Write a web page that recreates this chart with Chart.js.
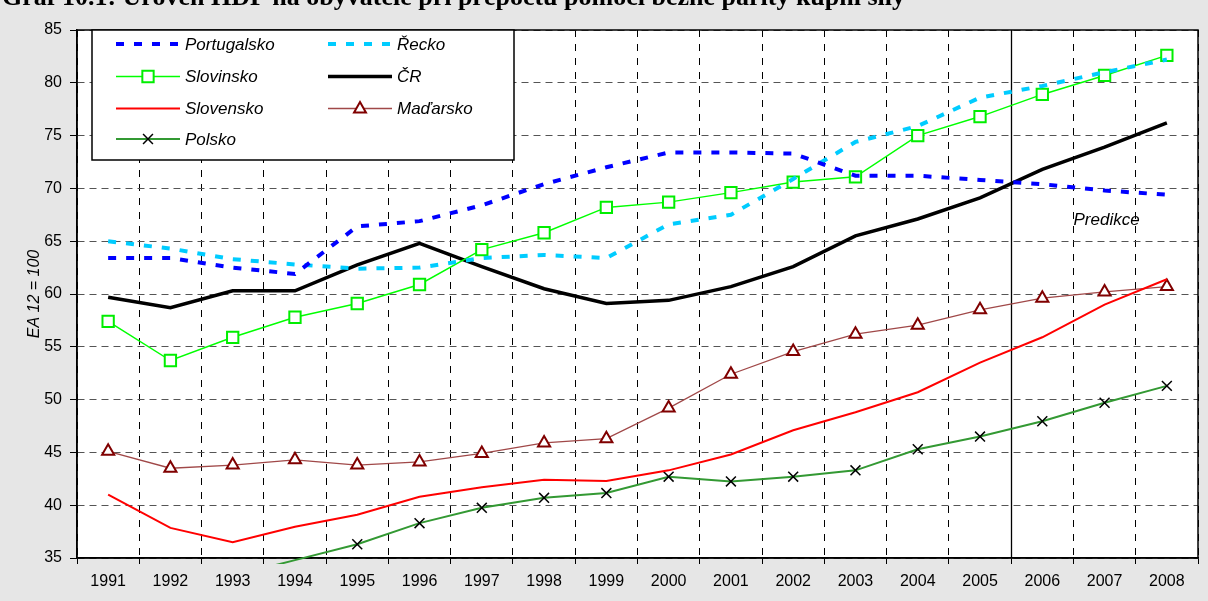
<!DOCTYPE html>
<html>
<head>
<meta charset="utf-8">
<script src="https://cdn.jsdelivr.net/npm/chart.js@4.4.1/dist/chart.umd.min.js"></script>
<style>
  html, body { margin: 0; padding: 0; background: #e6e6e6; }
  #wrap { position: relative; width: 1208px; height: 601px; }
</style>
</head>
<body>
<div id="wrap"><canvas id="chart" width="1208" height="601"></canvas></div>
<script>
// Graf 10.1 - HDP na obyvatele (EA 12 = 100)
const years = ['1991', '1992', '1993', '1994', '1995', '1996', '1997', '1998', '1999',
  '2000', '2001', '2002', '2003', '2004', '2005', '2006', '2007', '2008'];

const portugalsko = [63.4, 63.4, 62.5, 61.9, 66.4, 66.9, 68.4, 70.4, 72.0, 73.4, 73.4, 73.3, 71.2, 71.2, 70.8, 70.4, 69.8, 69.4];
const recko = [65.0, 64.3, 63.3, 62.8, 62.4, 62.5, 63.4, 63.7, 63.4, 66.6, 67.5, 70.9, 74.4, 75.9, 78.6, 79.7, 81.0, 82.2];
const slovinsko = [57.4, 53.7, 55.9, 57.8, 59.1, 60.9, 64.2, 65.8, 68.2, 68.7, 69.6, 70.6, 71.1, 75.0, 76.8, 78.9, 80.7, 82.6];
const cr = [59.7, 58.7, 60.3, 60.3, 62.75, 64.8, 62.6, 60.5, 59.1, 59.4, 60.7, 62.6, 65.5, 67.1, 69.1, 71.8, 73.9, 76.2];
const slovensko = [41.0, 37.85, 36.5, 37.95, 39.1, 40.8, 41.7, 42.4, 42.3, 43.3, 44.8, 47.1, 48.8, 50.7, 53.5, 55.9, 59.0, 61.4];
const madarsko = [45.1, 43.5, 43.8, 44.3, 43.8, 44.1, 44.9, 45.9, 46.3, 49.2, 52.4, 54.55, 56.2, 57.05, 58.5, 59.6, 60.2, 60.7];
const polsko = [null, null, 33.3, 34.8, 36.3, 38.3, 39.75, 40.7, 41.15, 42.7, 42.25, 42.7, 43.3, 45.3, 46.5, 47.95, 49.7, 51.3];

const yTicks = [35, 40, 45, 50, 55, 60, 65, 70, 75, 80, 85];

const titleText = 'Graf 10.1: Úroveň HDP na obyvatele při přepočtu pomocí běžné parity kupní síly';
const predictionLabel = 'Predikce';
const axisTitle = 'EA 12 = 100';

const FONT = '"Liberation Sans", Arial, sans-serif';

// draw a marker without depending on Chart.helpers
function marker(ctx, style, x, y, r, fill, stroke, lw) {
  ctx.save();
  ctx.setLineDash([]);
  ctx.lineWidth = lw;
  ctx.strokeStyle = stroke;
  ctx.fillStyle = fill;
  ctx.beginPath();
  if (style === 'rect') {
    const s = r * Math.SQRT1_2;
    ctx.rect(x - s, y - s, 2 * s, 2 * s);
    ctx.fill();
    ctx.stroke();
  } else if (style === 'triangle') {
    const h = r * 1.5;
    ctx.moveTo(x, y - h * 0.62);
    ctx.lineTo(x + r * 0.85, y + h * 0.38);
    ctx.lineTo(x - r * 0.85, y + h * 0.38);
    ctx.closePath();
    ctx.fill();
    ctx.stroke();
  } else if (style === 'crossRot') {
    const s = r * Math.SQRT1_2;
    ctx.moveTo(x - s, y - s); ctx.lineTo(x + s, y + s);
    ctx.moveTo(x - s, y + s); ctx.lineTo(x + s, y - s);
    ctx.stroke();
  }
  ctx.restore();
}

const chartDecor = {
  id: 'chartDecor',
  beforeDraw(chart) {
    const { ctx, chartArea: a } = chart;
    ctx.save();
    ctx.fillStyle = '#ffffff';
    ctx.fillRect(a.left, a.top, a.right - a.left, a.bottom - a.top);
    // title, partly cut at the top edge
    let size = 22;
    ctx.font = 'bold ' + size + 'px "Liberation Serif", "Times New Roman", serif';
    const w = ctx.measureText(titleText).width;
    size = size * 903 / w;
    ctx.font = 'bold ' + size.toFixed(2) + 'px "Liberation Serif", "Times New Roman", serif';
    ctx.fillStyle = '#000';
    ctx.textBaseline = 'alphabetic';
    ctx.fillText(titleText, 2, 5);
    ctx.restore();
  },
  beforeDatasetsDraw(chart) {
    const { ctx, chartArea: a, scales } = chart;
    const x = scales.x;
    const y = scales.y;
    ctx.save();
    // forecast divider between 2005 and 2006
    const xd = Math.round((x.getPixelForValue(14) + x.getPixelForValue(15)) / 2) + 0.5;
    ctx.strokeStyle = '#000';
    ctx.lineWidth = 1.3;
    ctx.beginPath();
    ctx.moveTo(xd, a.top);
    ctx.lineTo(xd, a.bottom);
    ctx.stroke();
    // plot border
    ctx.lineWidth = 1.5;
    ctx.strokeRect(a.left, a.top, a.right - a.left, a.bottom - a.top);
    // prediction label
    ctx.font = 'italic 17px ' + FONT;
    ctx.textAlign = 'center';
    ctx.textBaseline = 'middle';
    ctx.fillStyle = '#000';
    ctx.fillText(predictionLabel, x.getPixelForValue(16) + 2, y.getPixelForValue(67));
    ctx.restore();
  },
  afterDatasetsDraw(chart) {
    const { ctx, chartArea: a } = chart;
    const ds = chart.data.datasets;
    const x0 = a.left + 15, y0 = a.top, x1 = a.left + 437, y1 = a.top + 130;
    ctx.save();
    ctx.fillStyle = '#ffffff';
    ctx.fillRect(x0, y0, x1 - x0, y1 - y0);
    ctx.strokeStyle = '#000';
    ctx.lineWidth = 1.5;
    ctx.strokeRect(x0, y0, x1 - x0, y1 - y0);

    const cols = [x0 + 24, x0 + 236];
    const rows = [y0 + 14, y0 + 46.5, y0 + 78.5, y0 + 109];
    // order: Portugalsko, Řecko / Slovinsko, ČR / Slovensko, Maďarsko / Polsko
    ds.forEach((d, i) => {
      const lx = cols[i % 2];
      const ly = rows[Math.floor(i / 2)];
      ctx.save();
      ctx.strokeStyle = d.borderColor;
      ctx.lineWidth = d.borderWidth;
      ctx.setLineDash(d.borderDash || []);
      ctx.beginPath();
      ctx.moveTo(lx, ly);
      ctx.lineTo(lx + 64, ly);
      ctx.stroke();
      ctx.restore();
      if (d.legendMarker) {
        marker(ctx, d.pointStyle, lx + 32, ly, d.legendMarker,
          d.pointBackgroundColor, d.pointBorderColor, d.pointBorderWidth);
      }
      ctx.font = 'italic 17px ' + FONT;
      ctx.fillStyle = '#000';
      ctx.textAlign = 'left';
      ctx.textBaseline = 'middle';
      ctx.fillText(d.label, lx + 69, ly + 1);
    });
    ctx.restore();
  }
};

const hideBelow = (r) => (ctx) => (ctx.raw == null || ctx.raw < 35 ? 0 : r);

new Chart(document.getElementById('chart'), {
  type: 'line',
  data: {
    labels: years,
    datasets: [
      {
        label: 'Portugalsko', data: portugalsko,
        borderColor: '#0000ff', borderWidth: 4, borderDash: [8, 10],
        pointRadius: 0, tension: 0
      },
      {
        label: 'Řecko', data: recko,
        borderColor: '#00ccff', borderWidth: 4, borderDash: [8, 10],
        pointRadius: 0, tension: 0
      },
      {
        label: 'Slovinsko', data: slovinsko,
        borderColor: '#00ff00', borderWidth: 1.5,
        pointStyle: 'rect', pointRadius: 8, legendMarker: 8,
        pointBackgroundColor: '#ffffff', pointBorderColor: '#00ee00', pointBorderWidth: 2,
        tension: 0
      },
      {
        label: 'ČR', data: cr,
        borderColor: '#000000', borderWidth: 3.5,
        pointRadius: 0, tension: 0
      },
      {
        label: 'Slovensko', data: slovensko,
        borderColor: '#ff0000', borderWidth: 2,
        pointRadius: 0, tension: 0
      },
      {
        label: 'Maďarsko', data: madarsko,
        borderColor: '#a04848', borderWidth: 1.3,
        pointStyle: 'triangle', pointRadius: 7, legendMarker: 7,
        pointBackgroundColor: '#ffffff', pointBorderColor: '#800000', pointBorderWidth: 2,
        tension: 0
      },
      {
        label: 'Polsko', data: polsko,
        borderColor: '#339933', borderWidth: 2,
        pointStyle: 'crossRot', pointRadius: hideBelow(7), legendMarker: 7,
        pointBackgroundColor: '#000000', pointBorderColor: '#000000', pointBorderWidth: 1.5,
        clip: { left: 0, top: 0, right: 0, bottom: 6 },
        spanGaps: false, tension: 0
      }
    ]
  },
  options: {
    responsive: false,
    animation: false,
    layout: { padding: { left: 0, top: 30, right: 10, bottom: 0 } },
    plugins: {
      legend: { display: false },
      tooltip: { enabled: false },
      title: { display: false }
    },
    scales: {
      x: {
        offset: true,
        grid: {
          offset: true,
          color: '#000',
          lineWidth: 1,
          tickLength: 6,
          tickColor: '#000',
          drawOnChartArea: true
        },
        border: { display: true, color: '#000', width: 1.5, dash: [7, 7] },
        ticks: {
          color: '#000',
          padding: 8,
          maxRotation: 0,
          autoSkip: false,
          font: { family: FONT, size: 16 }
        },
        afterFit(scale) { scale.height = 43; }
      },
      y: {
        min: 35,
        max: 85,
        afterBuildTicks(scale) { scale.ticks = yTicks.map(v => ({ value: v })); },
        grid: {
          color: '#555',
          lineWidth: 1,
          tickLength: 7,
          tickColor: '#000'
        },
        border: { display: true, color: '#000', width: 1.5, dash: [7, 5] },
        ticks: {
          color: '#000',
          padding: 8,
          font: { family: FONT, size: 16 }
        },
        title: {
          display: true,
          text: axisTitle,
          color: '#000',
          padding: { top: 25, bottom: 0 },
          font: { family: FONT, size: 16, style: 'italic' }
        },
        afterFit(scale) { scale.width = 77; }
      }
    }
  },
  plugins: [chartDecor]
});
</script>
</body>
</html>
